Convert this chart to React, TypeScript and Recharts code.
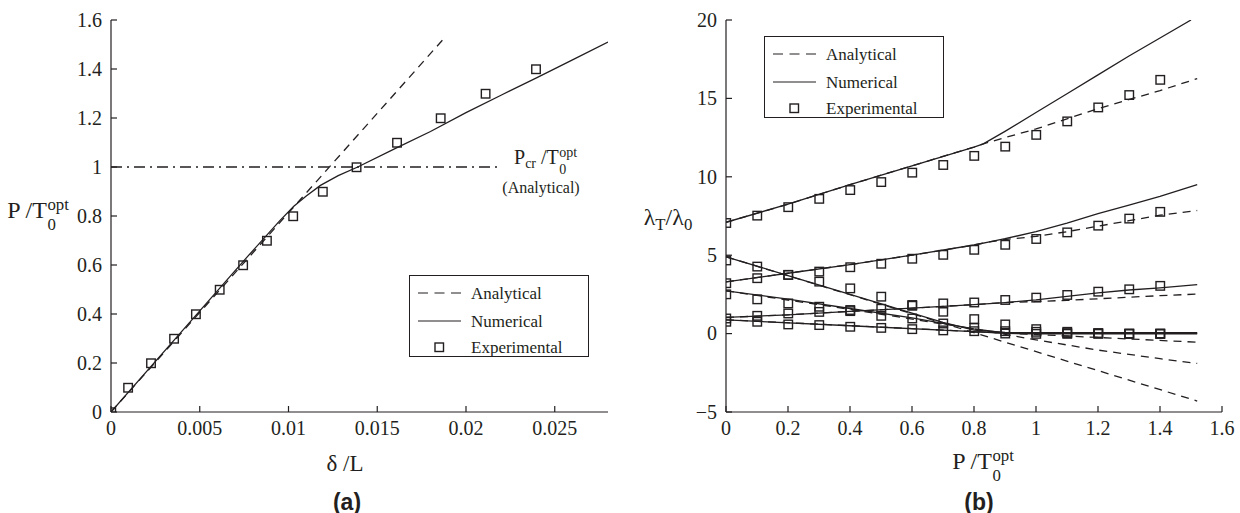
import React from "react";
import { ComposedChart, Line, Scatter, XAxis, YAxis } from "recharts";

const INK = "#231f20";
const SERIF = "'Liberation Serif', 'Times New Roman', Times, serif";
const SANS = "'Liberation Sans', Arial, sans-serif";

// ---- panel (a): load vs. deflection ----
const A_X_TICKS = [0, 0.005, 0.01, 0.015, 0.02, 0.025];
const A_Y_TICKS = [0, 0.2, 0.4, 0.6, 0.8, 1, 1.2, 1.4, 1.6];
const A_ANALYTICAL: [number, number][] = [[0, 0], [0.0187, 1.52]];
const A_NUMERICAL: [number, number][] = [
  [0, 0], [0.004, 0.33], [0.0076, 0.627], [0.0095, 0.78], [0.0103, 0.84], [0.011, 0.882],
  [0.0118, 0.925], [0.0128, 0.965], [0.0139, 1.0], [0.016, 1.075], [0.018, 1.145],
  [0.02, 1.222], [0.022, 1.294], [0.024, 1.365], [0.026, 1.437], [0.028, 1.51],
];
const A_EXP_X = [0, 0.00095, 0.00224, 0.00354, 0.00477, 0.00611, 0.00743, 0.00877, 0.01025,
  0.01192, 0.01382, 0.0161, 0.01856, 0.02109, 0.02393];
const A_EXP_Y = [0, 0.1, 0.2, 0.3, 0.4, 0.5, 0.6, 0.7, 0.8, 0.9, 1.0, 1.1, 1.2, 1.3, 1.4];
const A_CRITICAL: [number, number][] = [[0, 1], [0.0218, 1]];

// ---- panel (b): λT/λ0 vs. load ----
const B_X_TICKS = [0, 0.2, 0.4, 0.6, 0.8, 1, 1.2, 1.4, 1.6];
const B_Y_TICKS = [-5, 0, 5, 10, 15, 20];
const B_EXP_P = [0, 0.1, 0.2, 0.3, 0.4, 0.5, 0.6, 0.7, 0.8, 0.9, 1.0, 1.1, 1.2, 1.3, 1.4];
const B_EXP_1 = [7.07, 7.54, 8.08, 8.61, 9.17, 9.68, 10.28, 10.77, 11.35, 11.94, 12.69, 13.55, 14.44, 15.23, 16.2];
const B_EXP_2 = [3.23, 3.55, 3.76, 3.97, 4.25, 4.47, 4.79, 5.04, 5.36, 5.68, 6.05, 6.47, 6.9, 7.35, 7.78];
const B_EXP_3 = [4.68, 4.29, 3.76, 3.33, 2.9, 2.37, 1.84, 1.41, 0.94, 0.6, 0.3, 0.13, 0.05, 0.02, 0.02];
const B_EXP_4 = [2.52, 2.2, 1.94, 1.73, 1.52, 1.15, 0.98, 0.66, 0.38, 0.17, 0.13, 0.05, 0.03, 0, 0];
const B_EXP_5 = [0.98, 1.15, 1.3, 1.4, 1.45, 1.6, 1.79, 1.94, 2.0, 2.16, 2.31, 2.48, 2.69, 2.84, 3.06];
const B_EXP_6 = [0.77, 0.77, 0.6, 0.56, 0.45, 0.38, 0.3, 0.22, 0.17, 0.02, 0, 0, 0, 0, 0];

const B_NUM_1: [number, number][] = [[0, 7.1], [0.2, 8.25], [0.4, 9.5], [0.6, 10.7], [0.8, 11.9], [0.83, 12.1],
  [0.9, 12.9], [1.0, 14.1], [1.1, 15.3], [1.2, 16.5], [1.3, 17.7], [1.4, 18.85], [1.5, 20]];
const B_ANA_1: [number, number][] = [[0, 7.1], [0.2, 8.25], [0.4, 9.5], [0.6, 10.7], [0.8, 11.9], [0.83, 12.1],
  [0.9, 12.5], [1.0, 13.05], [1.2, 14.35], [1.4, 15.5], [1.52, 16.26]];
const B_NUM_2: [number, number][] = [[0, 3.3], [0.2, 3.85], [0.4, 4.4], [0.6, 5.0], [0.8, 5.65], [0.85, 5.85],
  [0.9, 6.05], [1.0, 6.5], [1.1, 7.05], [1.2, 7.65], [1.3, 8.2], [1.4, 8.75], [1.52, 9.5]];
const B_ANA_2: [number, number][] = [[0, 3.3], [0.2, 3.85], [0.4, 4.4], [0.6, 5.0], [0.8, 5.65], [0.85, 5.85],
  [0.9, 6.0], [1.0, 6.2], [1.1, 6.5], [1.2, 6.85], [1.3, 7.2], [1.4, 7.55], [1.52, 7.85]];
const B_NUM_3: [number, number][] = [[0, 4.9], [0.2, 3.7], [0.4, 2.5], [0.6, 1.3], [0.7, 0.72], [0.8, 0.22],
  [0.9, 0.07], [1.0, 0.06], [1.2, 0.06], [1.52, 0.06]];
const B_ANA_3: [number, number][] = [[0, 4.9], [0.4, 2.48], [0.8, 0.06], [1.2, -2.36], [1.52, -4.3]];
const B_NUM_4: [number, number][] = [[0, 2.73], [0.2, 2.2], [0.4, 1.6], [0.6, 1.0], [0.8, 0.3], [0.9, 0.05],
  [1.0, 0.02], [1.2, 0.02], [1.52, 0.02]];
const B_ANA_4: [number, number][] = [[0, 2.73], [0.4, 1.55], [0.8, 0.3], [1.0, -0.4], [1.2, -1.05], [1.4, -1.6], [1.52, -1.9]];
const B_NUM_5: [number, number][] = [[0, 1.03], [0.2, 1.2], [0.4, 1.42], [0.6, 1.62], [0.8, 1.85], [0.9, 1.98],
  [1.0, 2.15], [1.1, 2.38], [1.2, 2.6], [1.3, 2.78], [1.4, 2.92], [1.52, 3.12]];
const B_ANA_5: [number, number][] = [[0, 1.03], [0.2, 1.2], [0.4, 1.42], [0.6, 1.62], [0.8, 1.85], [0.9, 1.98],
  [1.0, 2.05], [1.1, 2.12], [1.2, 2.22], [1.3, 2.32], [1.4, 2.42], [1.52, 2.52]];
const B_NUM_6: [number, number][] = [[0, 0.88], [0.4, 0.5], [0.8, 0.13], [0.9, 0.02], [1.0, -0.02], [1.52, -0.02]];
const B_ANA_6: [number, number][] = [[0, 0.88], [0.8, 0.13], [1.52, -0.55]];

const pts = (pairs: [number, number][]) => pairs.map(([x, y]) => ({ x, y }));
const zipPts = (xs: number[], ys: number[]) => xs.map((x, i) => ({ x, y: ys[i] }));
const fmt = (v: number) => String(v).replace("-", "\u2212");

const Square = (props: any) => {
  const { cx, cy } = props;
  if (cx == null || cy == null) return null;
  return <rect x={cx - 4} y={cy - 4} width={8.5} height={8.5} fill="none" stroke={INK} strokeWidth={1.4} />;
};

// tick labels drawn by hand so the serif face sticks
const XTick = ({ x, y, payload }: any) => (
  <text x={x} y={y} dy="0.71em" textAnchor="middle" fill={INK} fontSize={20}
    style={{ fontFamily: SERIF }}>{fmt(payload.value)}</text>
);
const YTick = ({ x, y, payload }: any) => (
  <text x={x} y={y} dy="0.34em" textAnchor="end" fill={INK} fontSize={20}
    style={{ fontFamily: SERIF }}>{fmt(payload.value)}</text>
);

type Series = { data: { x: number; y: number }[]; dash?: string };

function Panel({ left, margin, xDomain, yDomain, xTicks, yTicks, lines, points }: {
  left: number;
  margin: { top: number; right: number; bottom: number; left: number };
  xDomain: [number, number]; yDomain: [number, number];
  xTicks: number[]; yTicks: number[];
  lines: Series[]; points: { x: number; y: number }[][];
}) {
  return (
    <div style={{ position: "absolute", left, top: 0, fontFamily: SERIF }}>
      <ComposedChart width={620} height={513} margin={margin} style={{ fontFamily: SERIF }}>
        <XAxis type="number" dataKey="x" domain={xDomain} ticks={xTicks} interval={0} allowDataOverflow
          stroke={INK} strokeWidth={1.2} tickSize={-6} tickMargin={15} tick={<XTick />} height={30} />
        <YAxis type="number" dataKey="y" domain={yDomain} ticks={yTicks} interval={0} allowDataOverflow
          stroke={INK} strokeWidth={1.2} tickSize={-6} tickMargin={15} tick={<YTick />} width={40} />
        {lines.map((s, i) => (
          <Line key={"l" + i} data={s.data} dataKey="y" type="linear" stroke={INK} strokeWidth={1.3}
            strokeDasharray={s.dash} dot={false} activeDot={false} isAnimationActive={false} />
        ))}
        {points.map((d, i) => (
          <Scatter key={"s" + i} data={d} dataKey="y" shape={Square} isAnimationActive={false} />
        ))}
      </ComposedChart>
    </div>
  );
}

// T with a 0 below and "opt" above
function Stack({ sup, sub }: { sup: string; sub: string }) {
  return (
    <span style={{ display: "inline-flex", flexDirection: "column", fontSize: "0.7em", lineHeight: 1.2,
      verticalAlign: "0.5em", marginLeft: "0.03em" }}>
      <span>{sup}</span><span>{sub}</span>
    </span>
  );
}
const Sub = ({ children }: { children: React.ReactNode }) => (
  <span style={{ fontSize: "0.7em", verticalAlign: "-0.3em" }}>{children}</span>
);

function Centered({ x, y, size, children, font = SERIF, weight = 400 }: {
  x: number; y: number; size: number; children: React.ReactNode; font?: string; weight?: number;
}) {
  return (
    <div style={{ position: "absolute", left: x, top: y, transform: "translate(-50%, -50%)", whiteSpace: "nowrap",
      fontFamily: font, fontSize: size, fontWeight: weight, color: INK, lineHeight: 1 }}>
      {children}
    </div>
  );
}

function LegendBox({ left, top }: { left: number; top: number }) {
  const row = (y: number, text: string) => (
    <div style={{ position: "absolute", left: 61, top: y, transform: "translateY(-50%)", lineHeight: 1,
      fontFamily: SERIF }}>{text}</div>
  );
  return (
    <div style={{ position: "absolute", left, top, width: 180, height: 82, border: `1.2px solid ${INK}`,
      boxSizing: "border-box", fontFamily: SERIF, fontSize: 17, color: INK, background: "#fff" }}>
      <svg width={60} height={80} style={{ position: "absolute", left: 0, top: 0 }}>
        <line x1={8} x2={51} y1={17} y2={17} stroke={INK} strokeWidth={1.2} strokeDasharray="10 6.5" />
        <line x1={8} x2={51} y1={45} y2={45} stroke={INK} strokeWidth={1.2} />
        <rect x={25} y={67} width={8.5} height={8.5} fill="none" stroke={INK} strokeWidth={1.4} />
      </svg>
      {row(17, "Analytical")}
      {row(45, "Numerical")}
      {row(71, "Experimental")}
    </div>
  );
}

export default function App() {
  const aLines: Series[] = [
    { data: pts(A_CRITICAL), dash: "11 5 2 5" },
    { data: pts(A_ANALYTICAL), dash: "8 6" },
    { data: pts(A_NUMERICAL) },
  ];
  const bLines: Series[] = [
    B_ANA_1, B_ANA_2, B_ANA_3, B_ANA_4, B_ANA_5, B_ANA_6,
  ].map((d) => ({ data: pts(d), dash: "8 6" }))
    .concat([B_NUM_1, B_NUM_2, B_NUM_3, B_NUM_4, B_NUM_5, B_NUM_6].map((d) => ({ data: pts(d) })));
  const bPoints = [B_EXP_1, B_EXP_2, B_EXP_3, B_EXP_4, B_EXP_5, B_EXP_6].map((ys) => zipPts(B_EXP_P, ys));

  return (
    <div style={{ position: "absolute", left: 0, top: 0, width: 1240, height: 513, background: "#fff",
      overflow: "hidden", fontFamily: SERIF }}>
      <Panel left={0} margin={{ top: 20, right: 12, bottom: 71, left: 71 }}
        xDomain={[0, 0.028]} yDomain={[0, 1.6]} xTicks={A_X_TICKS} yTicks={A_Y_TICKS}
        lines={aLines} points={[zipPts(A_EXP_X, A_EXP_Y)]} />
      <Panel left={620} margin={{ top: 20, right: 18, bottom: 71, left: 66 }}
        xDomain={[0, 1.6]} yDomain={[-5, 20]} xTicks={B_X_TICKS} yTicks={B_Y_TICKS}
        lines={bLines} points={bPoints} />

      <LegendBox left={409} top={275} />
      <LegendBox left={764} top={36} />

      <Centered x={38} y={215} size={24}>P /T<Stack sup="opt" sub="0" /></Centered>
      <Centered x={345} y={463} size={23}>δ /L</Centered>
      <Centered x={347} y={502} size={23} font={SANS} weight={700}>(a)</Centered>
      <div style={{ position: "absolute", left: 514, top: 162, transform: "translateY(-50%)", whiteSpace: "nowrap",
        fontFamily: SERIF, fontSize: 20, color: INK, lineHeight: 1 }}>
        P<Sub>cr</Sub> /T<Stack sup="opt" sub="0" />
      </div>
      <Centered x={541} y={188} size={16}>(Analytical)</Centered>

      <Centered x={668} y={219} size={24}>λ<Sub>T</Sub>/λ<Sub>0</Sub></Centered>
      <Centered x={983} y={466} size={24}>P /T<Stack sup="opt" sub="0" /></Centered>
      <Centered x={979} y={502} size={23} font={SANS} weight={700}>(b)</Centered>
    </div>
  );
}
